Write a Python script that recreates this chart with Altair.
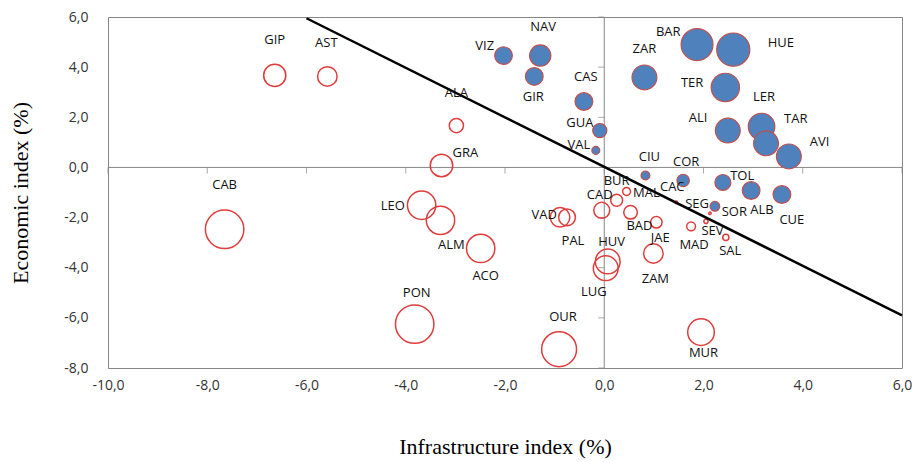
import altair as alt
import pandas as pd

# ---- data ----
names = ["VIZ","NAV","GIR","CAS","GUA","VAL","BAR","HUE","ZAR","TER","ALI","LER","TAR","AVI",
         "CIU","COR","TOL","ALB","CUE","SEG",
         "SOR","BUR","MAL","CAD","BAD","VAD","PAL","JAE","ZAM","MAD","SEV","SAL","CAC",
         "HUV","LUG","ACO","ALM","LEO","GRA","ALA","GIP","AST","CAB","PON","OUR","MUR"]
infra = [-2.03,-1.29,-1.41,-0.41,-0.09,-0.17,1.87,2.60,0.81,2.44,2.49,3.17,3.26,3.72,
         0.83,1.59,2.39,2.96,3.58,2.23,
         2.13,0.25,0.45,-0.05,0.53,-0.89,-0.75,1.05,0.99,1.75,2.05,2.45,1.45,
         0.07,0.03,-2.49,-3.30,-3.68,-3.28,-2.98,-6.64,-5.58,-7.65,-3.82,-0.91,1.95]
econ = [4.46,4.46,3.63,2.63,1.47,0.68,4.90,4.70,3.59,3.19,1.47,1.63,0.96,0.44,
        -0.32,-0.52,-0.60,-0.92,-1.08,-1.55,
        -1.83,-1.31,-0.96,-1.71,-1.79,-1.99,-1.99,-2.19,-3.43,-2.35,-2.15,-2.79,-1.39,
        -3.75,-4.02,-3.23,-2.11,-1.51,0.08,1.67,3.67,3.63,-2.47,-6.25,-7.25,-6.57]
weight = [100,144,100,100,64,20,324,350,196,256,196,225,196,196,
          25,49,81,100,100,30,
          2,45,20,81,59,121,90,42,121,25,6,12,2,
          196,196,256,256,256,161,64,156,121,471,471,388,225]
above_line = [True]*20 + [False]*26
label_x = [-2.41,-1.23,-1.43,-0.37,-0.49,-0.51,1.29,3.56,0.81,1.77,1.89,3.22,3.86,4.34,
           0.91,1.65,2.78,3.18,3.78,1.87,
           2.62,0.25,0.85,-0.09,0.71,-1.21,-0.63,1.13,1.03,1.81,2.18,2.54,1.37,
           0.15,-0.21,-2.39,-3.08,-4.26,-2.80,-2.98,-6.64,-5.60,-7.65,-3.78,-0.83,2.00]
label_y = [4.86,5.62,2.79,3.59,1.79,0.88,5.42,4.98,4.74,3.35,1.99,2.79,1.95,1.00,
           0.40,0.20,-0.36,-1.71,-2.11,-1.47,
           -1.79,-0.56,-1.00,-1.08,-2.35,-1.91,-2.95,-2.83,-4.46,-3.11,-2.55,-3.35,-0.80,
           -2.99,-4.98,-4.34,-3.11,-1.55,0.56,2.95,5.10,4.98,-0.72,-5.02,-5.98,-7.41]

trend_x = [-6.0, 6.0]
trend_y = [5.95, -5.9]

x_ticks = [-10, -8, -6, -4, -2, 0, 2, 4, 6]
y_ticks = [-8, -6, -4, -2, 0, 2, 4, 6]

df = pd.DataFrame({"name": names, "x": infra, "y": econ, "w": weight,
                   "above": above_line, "lx": label_x, "ly": label_y})
trend = pd.DataFrame({"x": trend_x, "y": trend_y})
xt = pd.DataFrame({"v": x_ticks})
yt = pd.DataFrame({"v": y_ticks})

lab = "(datum.value < 0 ? '-' : '') + replace(format(abs(datum.value), '.1f'), '.', ',')"
xscale = alt.Scale(domain=[-10, 6], nice=False, zero=False)
yscale = alt.Scale(domain=[-8, 6], nice=False, zero=False)
xaxis = alt.Axis(values=x_ticks, labelExpr=lab, grid=False, domain=False, ticks=False, tickSize=0,
                 labelFlush=False, labelOverlap=False,
                 labelPadding=10, labelFont="Open Sans", labelFontSize=14, labelColor="#333333",
                 title="Infrastructure index (%)", titleFont="Liberation Serif", titleFontSize=22,
                 titleFontWeight="normal", titleColor="#000000", titlePadding=44)
yaxis = alt.Axis(values=y_ticks, labelExpr=lab, grid=False, domain=False, ticks=False, tickSize=0,
                 labelFlush=False, labelOverlap=False,
                 labelPadding=20, labelFont="Open Sans", labelFontSize=14, labelColor="#333333",
                 title="Economic index (%)", titleFont="Liberation Serif", titleFontSize=22,
                 titleFontWeight="normal", titleColor="#000000", titlePadding=31)

axcol = "#868686"
base = alt.Chart(df)

vline = alt.Chart(xt).mark_rule(color=axcol, strokeWidth=1).encode(
    x=alt.X("xx:Q", scale=xscale, axis=xaxis)).transform_calculate(xx="0").transform_filter("datum.v == 0")
hline = alt.Chart(yt).mark_rule(color=axcol, strokeWidth=1).encode(
    y=alt.Y("yy:Q", scale=yscale, axis=yaxis)).transform_calculate(yy="0").transform_filter("datum.v == 0")

xtick_marks = alt.Chart(xt).mark_tick(orient="vertical", size=6, thickness=1, color=axcol, yOffset=3).encode(
    x=alt.X("v:Q", scale=xscale), y=alt.datum(0))
ytick_marks = alt.Chart(yt).mark_tick(orient="horizontal", size=6, thickness=1, color=axcol, xOffset=-3).encode(
    y=alt.Y("v:Q", scale=yscale), x=alt.datum(0))

size_enc = alt.Size("w:Q", scale=alt.Scale(domain=[0, 500], range=[0, 1571]), legend=None)

open_b = base.transform_filter("!datum.above").mark_point(
    shape="circle", filled=False, stroke="#E03C3C", strokeWidth=1.5, opacity=1).encode(
    x=alt.X("x:Q", scale=xscale), y=alt.Y("y:Q", scale=yscale), size=size_enc)
blue_b = base.transform_filter("datum.above").mark_point(
    shape="circle", filled=True, fill="#4F81BD", stroke="#C0504D", strokeWidth=1.2, opacity=1, fillOpacity=1).encode(
    x=alt.X("x:Q", scale=xscale), y=alt.Y("y:Q", scale=yscale), size=size_enc)

line = alt.Chart(trend).mark_line(color="#000000", strokeWidth=2.5).encode(
    x=alt.X("x:Q", scale=xscale), y=alt.Y("y:Q", scale=yscale))

labels = base.mark_text(font="Open Sans", fontSize=13, color="#111111", align="center", baseline="middle").encode(
    x=alt.X("lx:Q", scale=xscale), y=alt.Y("ly:Q", scale=yscale), text="name:N")

chart = alt.layer(vline, hline, xtick_marks, ytick_marks, open_b, blue_b, line, labels).properties(
    width=794, height=351,
    autosize=alt.AutoSizeParams(type="none"),
    padding={"left": 100, "top": 9, "right": 10, "bottom": 96},
    background="white",
).configure_view(stroke=axcol, strokeWidth=1)

chart.save("out.html", embed_options={"renderer": "svg", "actions": False})
